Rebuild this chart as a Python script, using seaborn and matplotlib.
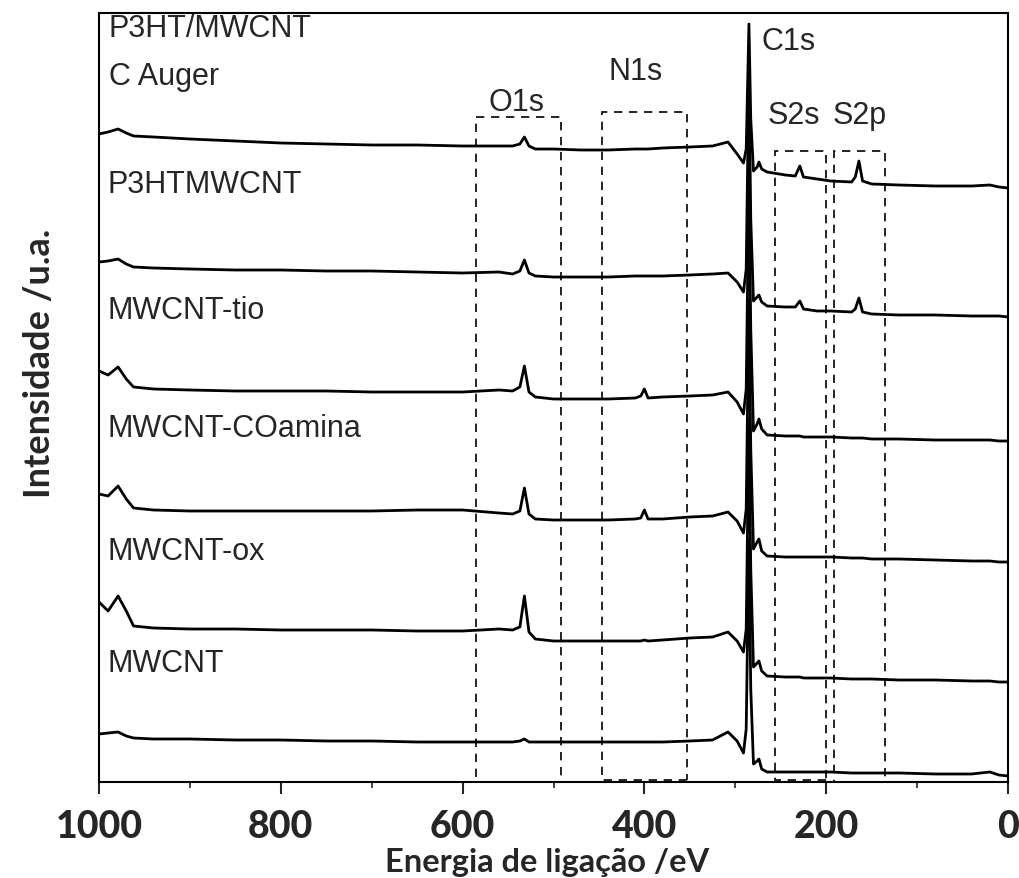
import matplotlib
matplotlib.use("Agg")
import matplotlib.pyplot as plt
from matplotlib.patches import Rectangle
from matplotlib.ticker import MultipleLocator
import seaborn as sns
import pandas as pd

# Binding energy grid (eV), shared by all survey spectra
energy = [1000, 990, 979, 970, 962, 940, 900, 850, 800, 750, 700, 650, 600,
          560, 545, 537, 532, 527, 520, 500, 470, 440, 410, 404, 400, 396,
          380, 350, 325, 308, 298, 291, 288, 285, 283, 280, 276, 274, 271,
          265, 245, 234, 229, 225, 210, 195, 172, 168, 164, 160, 150, 120,
          80, 40, 20, 10, 0]

# Stacked XPS survey intensities (a.u., offset included), top to bottom
p3ht_mwcnt = [648, 650, 653, 649, 646, 645, 643, 641, 639, 638, 637, 637, 636,
              636, 636, 638, 645, 636, 633, 633, 632, 632, 633, 633, 633, 633,
              634, 635, 636, 640, 628, 619, 633, 758, 663, 611, 615, 620, 613,
              610, 607, 606, 616, 605, 603, 601, 600, 605, 621, 601, 598, 597,
              596, 596, 597, 595, 594]
p3htmwcnt = [520, 521, 523, 518, 515, 514, 513, 512, 512, 511, 511, 510, 509,
             510, 508, 511, 522, 509, 506, 505, 505, 505, 506, 506, 506, 506,
             506, 507, 508, 509, 500, 490, 513, 713, 563, 481, 485, 487, 480,
             476, 475, 475, 481, 473, 471, 471, 470, 473, 484, 470, 468, 467,
             467, 466, 466, 466, 465]
mwcnt_tio = [411, 407, 415, 403, 395, 393, 392, 391, 391, 391, 390, 390, 390,
             392, 391, 395, 416, 390, 385, 383, 383, 383, 384, 386, 393, 384,
             385, 386, 387, 390, 380, 368, 393, 603, 453, 351, 358, 363, 353,
             347, 346, 346, 346, 345, 345, 345, 344, 344, 344, 344, 343, 343,
             342, 342, 342, 341, 341]
mwcnt_coamina = [288, 286, 296, 283, 274, 272, 271, 271, 271, 271, 271, 272, 272,
                 269, 268, 271, 294, 268, 263, 262, 262, 262, 263, 264, 272, 263,
                 263, 265, 266, 270, 261, 249, 273, 483, 333, 233, 240, 243, 231,
                 226, 225, 225, 225, 225, 225, 225, 224, 224, 224, 224, 223, 223,
                 222, 221, 221, 220, 220]
mwcnt_ox = [180, 171, 186, 171, 156, 154, 153, 153, 152, 152, 152, 151, 151,
            153, 152, 155, 186, 150, 143, 141, 141, 141, 141, 141, 142, 141,
            142, 144, 145, 150, 141, 130, 153, 363, 213, 115, 119, 121, 111,
            106, 105, 105, 105, 104, 104, 104, 103, 103, 103, 103, 103, 102,
            102, 101, 101, 100, 100]
mwcnt = [48, 49, 50, 46, 44, 43, 43, 42, 42, 41, 41, 40, 40,
         40, 40, 41, 43, 40, 40, 40, 40, 40, 40, 40, 40, 40,
         40, 41, 42, 50, 41, 29, 53, 243, 93, 18, 21, 23, 13,
         10, 10, 10, 10, 10, 10, 10, 9, 9, 9, 9, 9, 9,
         8, 8, 10, 7, 6]

spectra = [p3ht_mwcnt, p3htmwcnt, mwcnt_tio, mwcnt_coamina, mwcnt_ox, mwcnt]

# Sample names written on the left side
sample_names = ["P3HTMWCNT", "MWCNT-tio", "MWCNT-COamina", "MWCNT-ox", "MWCNT"]
sample_name_y = [598, 472, 354, 231, 119]

# Core-level regions: (label, E_high, E_low, bottom, top)
regions = [("O1s", 585, 492, 0, 665),
           ("N1s", 447, 353, 2, 670),
           ("S2s", 256, 200, 2, 631),
           ("S2p", 191, 135, 0, 631)]
region_labels = [("O1s", 572, 680), ("N1s", 440, 711), ("C1s", 271, 741),
                 ("S2s", 265, 667), ("S2p", 192.5, 667)]

sns.set_style("ticks")
plt.rcParams["font.family"] = ["Liberation Sans", "DejaVu Sans"]

fig = plt.figure(figsize=(10.19, 8.79), dpi=100)
ax = fig.add_axes([99 / 1019, 96 / 879, 909 / 1019, 769 / 879])

for vals in spectra:
    df = pd.DataFrame({"energy": energy, "intensity": vals})
    sns.lineplot(data=df, x="energy", y="intensity", color="black",
                 linewidth=2.0, sort=False, estimator=None, ax=ax)

for name, e_hi, e_lo, bot, top in regions:
    ax.add_patch(Rectangle((e_lo, bot), e_hi - e_lo, top - bot, fill=False,
                           edgecolor="black", linewidth=1.2,
                           linestyle=(0, (5, 4)), zorder=1))

ann_size = 22
for text, e, y in region_labels:
    ax.text(e, y, text, fontsize=ann_size, ha="left", va="center")
ax.text(989, 754, "P3HT/MWCNT", fontsize=ann_size, ha="left", va="center")
ax.text(989, 706, "C Auger", fontsize=ann_size, ha="left", va="center")
for name, y in zip(sample_names, sample_name_y):
    ax.text(991, y, name, fontsize=ann_size, ha="left", va="center")

ax.set_xlim(1000, 0)
ax.set_ylim(0, 769)
ax.xaxis.set_major_locator(MultipleLocator(200))
ax.xaxis.set_minor_locator(MultipleLocator(100))
ax.set_yticks([])
ax.tick_params(axis="x", which="major", direction="out", length=8.5,
               width=1.5, pad=11)
ax.tick_params(axis="x", which="minor", direction="out", length=4.5,
               width=1.2)
for lab in ax.get_xticklabels():
    lab.set_fontfamily(["Lato", "DejaVu Sans"])
    lab.set_fontweight("black")
    lab.set_fontsize(27)
for sp in ax.spines.values():
    sp.set_visible(True)
    sp.set_linewidth(1.5)
    sp.set_color("black")

ax.set_xlabel("Energia de ligação /eV", family=["Lato", "DejaVu Sans"],
              weight="bold", size=23.5)
ax.xaxis.label.set_verticalalignment("baseline")
ax.xaxis.set_label_coords(0.493, -0.1155)
ax.set_ylabel("Intensidade /u.a.", family=["Lato", "DejaVu Sans"],
              weight="bold", size=26)
ax.yaxis.set_label_coords(-0.047, 0.546)

fig.savefig("out.png", dpi=100)
